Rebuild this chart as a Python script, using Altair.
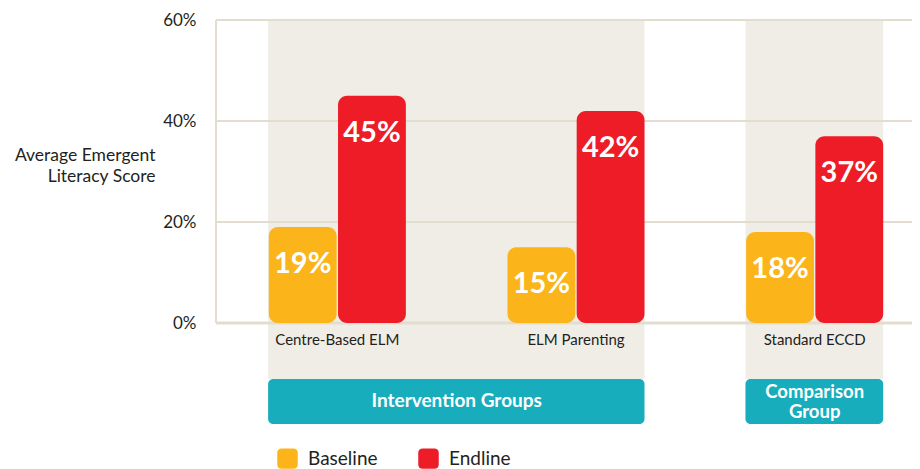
import altair as alt
import pandas as pd

# ---- data ----
categories = ["Centre-Based ELM", "ELM Parenting", "Standard ECCD"]
series = ["Baseline", "Endline"]
baseline = [19, 15, 18]
endline = [45, 42, 37]
y_ticks = [0, 20, 40, 60]
group_names = ["Intervention Groups", "Comparison\nGroup"]
group_first = ["Centre-Based ELM", "Standard ECCD"]
group_last = ["ELM Parenting", "Standard ECCD"]

ORANGE = "#FBB51A"
RED = "#ED1C26"
TEAL = "#17ADBC"
BEIGE = "#F0EDE6"
GRID = "#E3DDD0"
TEXT = "#231F20"
FONT = "Lato"

rows = []
for c, b, e in zip(categories, baseline, endline):
    rows.append({"category": c, "series": series[0], "value": b})
    rows.append({"category": c, "series": series[1], "value": e})
df = pd.DataFrame(rows)
groups = pd.DataFrame({"name": group_names, "first": group_first, "last": group_last})
ticks = pd.DataFrame({"v": y_ticks})
cats = pd.DataFrame({"category": categories})
one = pd.DataFrame({"k": [0]})

xscale = alt.Scale(domain=categories, range=[2, 718], paddingInner=0, paddingOuter=0)
yscale = alt.Scale(domain=[-20, 60], nice=False, zero=False)
yaxis = alt.Axis(
    values=y_ticks, labelExpr="datum.value + '%'", grid=False, domain=False, ticks=False,
    labelPadding=20, labelFontSize=17, labelColor=TEXT, labelFont=FONT,
    title=["Average Emergent", "Literacy Score"], titleAngle=0, titleAlign="right",
    titleBaseline="middle", titleX=-61, titleY=135, titleFontSize=17.5,
    titleFontWeight="normal", titleColor=TEXT, titleFont=FONT, titleLineHeight=21,
)

def X(field, bp=None):
    if bp is None:
        return alt.X(field, type="nominal", scale=xscale, axis=None, sort=categories)
    return alt.X(field, type="nominal", scale=xscale, axis=None, sort=categories, bandPosition=bp)

def Yd(v):
    return alt.Y(datum=v, scale=yscale, axis=yaxis)

shade = alt.Chart(groups).mark_rect(color=BEIGE).encode(
    x=X("first", 0.21), x2=alt.X2("last", bandPosition=0.787),
    y=Yd(60), y2=alt.Y2(datum=-11.1),
)
boxes = alt.Chart(groups).mark_rect(color=TEAL, cornerRadius=5).encode(
    x=X("first", 0.21), x2=alt.X2("last", bandPosition=0.787),
    y=Yd(-11.1), y2=alt.Y2(datum=-20),
)
box_text1 = alt.Chart(groups.iloc[[0]]).mark_text(
    color="white", fontWeight="bold", fontSize=19, font=FONT, baseline="middle"
).encode(x=X("first", 1.0), y=Yd(-15.5), text="name:N")
box_text2 = alt.Chart(groups.iloc[[1]]).mark_text(
    color="white", fontWeight="bold", fontSize=18.5, font=FONT, baseline="middle",
    lineBreak="\n", lineHeight=20,
).encode(x=X("first", 0.5), y=Yd(-13.7), text="name:N")

grid = alt.Chart(ticks).mark_rule(color=GRID).encode(
    y=alt.Y("v:Q", scale=yscale, axis=yaxis),
    strokeWidth=alt.condition(alt.datum.v == 0, alt.value(3), alt.value(2)),
)
left_rule = alt.Chart(one).mark_rule(color=GRID, strokeWidth=2).encode(
    x=alt.value(0), y=Yd(0), y2=alt.Y2(datum=60)
)

offset = alt.XOffset("series:N", scale=alt.Scale(domain=series, paddingInner=0.02, paddingOuter=0.734))
rounded = "M -0.55 -1 L 0.55 -1 Q 1 -1 1 -0.55 L 1 0.55 Q 1 1 0.55 1 L -0.55 1 Q -1 1 -1 0.55 L -1 -0.55 Q -1 -1 -0.55 -1 Z"
bars = alt.Chart(df).mark_bar(cornerRadius=9).encode(
    x=X("category"), xOffset=offset,
    y=alt.Y("value:Q", scale=yscale, axis=yaxis), y2=alt.Y2(datum=0),
    color=alt.Color("series:N", scale=alt.Scale(domain=series, range=[ORANGE, RED]),
                    legend=alt.Legend(orient="none", legendX=61, legendY=428, direction="horizontal",
                                      title=None, symbolType=rounded, symbolSize=420,
                                      symbolStrokeWidth=0, symbolOpacity=1,
                                      labelFontSize=19, labelFont=FONT, labelColor=TEXT,
                                      labelOffset=10, columnPadding=40, gridAlign="all", padding=0)),
)
bar_labels = alt.Chart(df).transform_calculate(lbl="datum.value + '%'").mark_text(
    color="white", fontWeight="bold", fontSize=29, font=FONT, baseline="middle", dy=37
).encode(
    x=X("category"), xOffset=offset,
    y=alt.Y("value:Q", scale=yscale, axis=yaxis),
    text="lbl:N",
)
cat_labels = alt.Chart(cats).mark_text(
    color=TEXT, fontSize=15, font=FONT, baseline="middle"
).encode(x=X("category"), y=Yd(-3.4), text="category:N")

chart = alt.layer(
    shade, boxes, box_text1, box_text2, grid, left_rule, bars, bar_labels, cat_labels
).properties(
    width=696, height=404,
    autosize=alt.AutoSizeParams(type="none"),
    padding={"left": 208, "top": 12, "right": 0, "bottom": 45},
).configure(font=FONT, view=alt.ViewConfig(stroke=None))

chart.save("out.html", embed_options={"renderer": "svg", "actions": False})
